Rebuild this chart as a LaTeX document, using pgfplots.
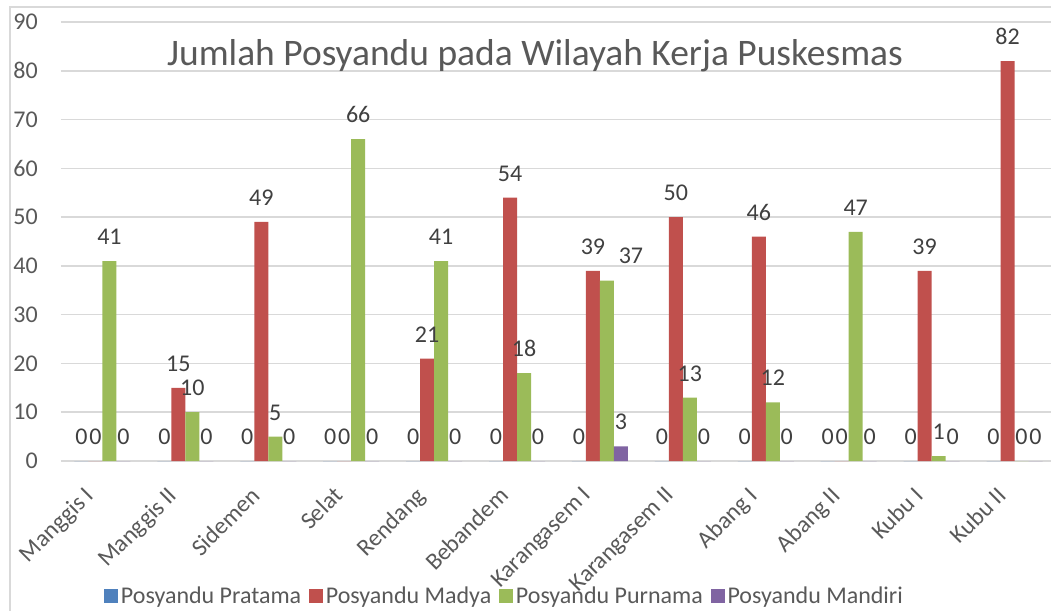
\documentclass[border=0pt]{standalone}
\usepackage{fontspec}
\setmainfont{Carlito}
\usepackage{pgfplots}
\pgfplotsset{compat=1.18}

\definecolor{cBlue}{HTML}{4F81BD}
\definecolor{cRed}{HTML}{C0504D}
\definecolor{cGreen}{HTML}{9BBB59}
\definecolor{cPurple}{HTML}{8064A2}
\definecolor{gridc}{HTML}{D9D9D9}
\definecolor{tgray}{HTML}{595959}
\definecolor{lgray}{HTML}{404040}

\newcommand{\smallfont}{\fontsize{18}{21}\selectfont}

\begin{document}
\begin{tikzpicture}
\useasboundingbox (0,0) rectangle (788.25pt,-458.25pt);
\clip (0,0) rectangle (788.25pt,-458.25pt);
% chart frame
\draw[gridc, line width=1.1pt] (7.5pt,-5.25pt) rectangle (800pt,-470pt);

\begin{axis}[
	at={(45.75pt,-345.75pt)}, anchor=south west,
	scale only axis,
	width=746.25pt, height=329.25pt,
	ybar=0pt, bar width=10.5pt,
	xmin=-0.5, xmax=11.5,
	ymin=0, ymax=90,
	ytick={0,10,...,90},
	xtick={0,...,11},
	xticklabels={Manggis I,Manggis II,Sidemen,Selat,Rendang,Bebandem,Karangasem I,Karangasem II,Abang I,Abang II,Kubu I,Kubu II},
	axis line style={draw=none},
	major tick length=0pt,
	ymajorgrids=true,
	grid style={gridc, line width=1.1pt},
	tick label style={font=\smallfont, text=tgray},
	/pgf/number format/assume math mode=true,
	yticklabel style={anchor=east, inner sep=0pt, xshift=-17.25pt},
	xticklabel style={xshift=-14.25pt, yshift=-18pt, rotate=45, anchor=north east, inner sep=0pt},
	nodes near coords,
	every node near coord/.append style={font=\smallfont, text=lgray, anchor=base, yshift=12.4pt, inner sep=0pt},
	legend columns=4,
	legend style={at={(0.4462,-0.3075)}, anchor=center, draw=none, fill=none,
		font=\smallfont, text=tgray,
		/tikz/every even column/.append style={column sep=4pt}},
	legend image code/.code={\fill[#1] (0pt,-5.25pt) rectangle (10.5pt,5.25pt);},
	clip=false
]

	% Posyandu Pratama
	\addplot[fill=cBlue, draw=none] coordinates {
		(0,0) (1,0) (2,0) (3,0) (4,0) (5,0) (6,0) (7,0) (8,0) (9,0) (10,0) (11,0)};
	\addlegendentry{Posyandu Pratama}

	% Posyandu Madya
	\addplot[fill=cRed, draw=none] coordinates {
		(0,0) (1,15) (2,49) (3,0) (4,21) (5,54) (6,39) (7,50) (8,46) (9,0) (10,39) (11,82)};
	\addlegendentry{Posyandu Madya}

	% Posyandu Purnama (label of Karangasem I moved right, as in the original)
	\addplot[fill=cGreen, draw=none,
		coordinate style/.condition={x==6}{xshift=18pt}] coordinates {
		(0,41) (1,10) (2,5) (3,66) (4,41) (5,18) (6,37) (7,13) (8,12) (9,47) (10,1) (11,0)};
	\addlegendentry{Posyandu Purnama}

	% Posyandu Mandiri
	\addplot[fill=cPurple, draw=none] coordinates {
		(0,0) (1,0) (2,0) (3,0) (4,0) (5,0) (6,3) (7,0) (8,0) (9,0) (10,0) (11,0)};
	\addlegendentry{Posyandu Mandiri}
\end{axis}

\node[font=\fontsize{28.1}{33}\selectfont, text=tgray, anchor=base] at (401.25pt,-48.75pt)
	{Jumlah Posyandu pada Wilayah Kerja Puskesmas};
\end{tikzpicture}
\end{document}
